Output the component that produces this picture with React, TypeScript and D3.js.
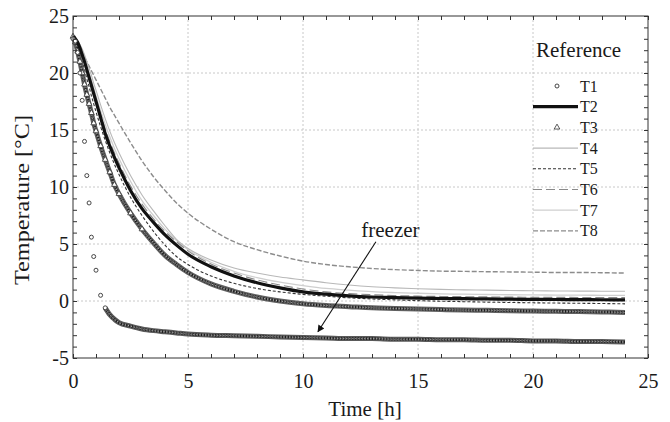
import React, { useRef, useEffect } from "react";
import * as d3 from "d3";

// time axis (h) shared by every probe
const hours = [0, 0.1, 0.2, 0.3, 0.4, 0.5, 0.6, 0.7, 0.8, 0.9, 1.0, 1.2, 1.4, 1.6, 1.8, 2.0, 2.5, 3, 3.5, 4, 4.5, 5,
  6, 7, 8, 9, 10, 11, 12, 13, 14, 15, 16, 17, 18, 19, 20, 21, 22, 23, 24];

const t1 = [23.0, 22.8, 21.8, 20.0, 17.6, 14.0, 11.0, 8.6, 5.6, 3.9, 2.7, 0.5, -0.6, -1.2, -1.6, -1.9, -2.2, -2.45, -2.6, -2.7, -2.8, -2.9,
  -3.0, -3.05, -3.1, -3.15, -3.2, -3.25, -3.3, -3.3, -3.35, -3.35, -3.4, -3.4, -3.45, -3.45, -3.5, -3.5, -3.55, -3.55, -3.6];
const t2 = [23.2, 23.0, 22.7, 22.2, 21.6, 21.0, 20.3, 19.6, 18.9, 18.2, 17.5, 16.1, 14.7, 13.6, 12.6, 11.7, 9.7, 8.1, 6.9, 5.8, 4.9, 4.1,
  3.0, 2.2, 1.6, 1.15, 0.8, 0.6, 0.45, 0.35, 0.3, 0.25, 0.22, 0.2, 0.18, 0.16, 0.14, 0.13, 0.12, 0.11, 0.1];
const t3 = [23.2, 22.7, 21.9, 21.0, 20.0, 19.0, 18.1, 17.3, 16.5, 15.6, 14.9, 13.6, 12.4, 11.3, 10.2, 9.4, 7.7, 6.3, 5.1, 4.0, 3.2, 2.5,
  1.5, 0.85, 0.35, 0.0, -0.25, -0.4, -0.5, -0.6, -0.65, -0.7, -0.75, -0.8, -0.82, -0.85, -0.88, -0.9, -0.93, -0.96, -1.0];
const t4 = [23.1, 23.0, 22.8, 22.5, 22.1, 21.6, 21.0, 20.4, 19.8, 19.1, 18.5, 17.2, 16.0, 14.9, 13.9, 13.0, 11.0, 9.3, 7.9, 6.6, 5.4, 4.6,
  3.6, 2.9, 2.45, 2.1, 1.85, 1.6, 1.4, 1.25, 1.15, 1.08, 1.02, 0.98, 0.95, 0.92, 0.9, 0.88, 0.87, 0.86, 0.85];
const t5 = [23.2, 22.9, 22.4, 21.7, 21.0, 20.3, 19.5, 18.8, 18.0, 17.3, 16.6, 15.3, 14.1, 13.0, 12.0, 11.1, 9.1, 7.5, 6.1, 4.9, 3.9, 3.2,
  2.2, 1.55, 1.1, 0.8, 0.58, 0.42, 0.28, 0.18, 0.1, 0.03, -0.02, -0.06, -0.1, -0.13, -0.16, -0.18, -0.2, -0.22, -0.25];
const t6 = [23.2, 23.0, 22.7, 22.3, 21.7, 21.1, 20.5, 19.8, 19.1, 18.4, 17.7, 16.4, 15.1, 14.0, 13.0, 12.1, 10.1, 8.5, 7.2, 6.1, 5.2, 4.4,
  3.25, 2.45, 1.85, 1.4, 1.05, 0.8, 0.65, 0.55, 0.48, 0.43, 0.4, 0.38, 0.36, 0.34, 0.33, 0.32, 0.31, 0.3, 0.3];
const t7 = [23.1, 23.0, 22.7, 22.3, 21.8, 21.3, 20.7, 20.0, 19.4, 18.7, 18.0, 16.7, 15.5, 14.4, 13.4, 12.5, 10.5, 8.8, 7.5, 6.3, 5.3, 4.5,
  3.4, 2.6, 2.05, 1.65, 1.35, 1.1, 0.95, 0.82, 0.74, 0.68, 0.63, 0.6, 0.57, 0.55, 0.53, 0.52, 0.51, 0.5, 0.5];
const t8 = [22.8, 22.7, 22.5, 22.2, 21.8, 21.4, 21.0, 20.6, 20.2, 19.8, 19.4, 18.6, 17.8, 17.0, 16.3, 15.6, 13.9, 12.3, 10.9, 9.7, 8.6, 7.7,
  6.3, 5.2, 4.5, 3.95, 3.5, 3.2, 3.0, 2.85, 2.75, 2.68, 2.62, 2.6, 2.57, 2.55, 2.53, 2.5, 2.5, 2.48, 2.45];

const seriesNames = ["T1", "T2", "T3", "T4", "T5", "T6", "T7", "T8"];
const seriesValues = [t1, t2, t3, t4, t5, t6, t7, t8];

const xMajor = [0, 5, 10, 15, 20, 25];
const yMajor = [-5, 0, 5, 10, 15, 20, 25];
const legendTitle = "Reference";
const xLabel = "Time [h]";
const yLabel = "Temperature [°C]";

// annotation, in data units (h, °C)
const noteText = "freezer";
const noteTextAt = [13.8, 5.6];
const noteFrom = [13.17, 5.2];
const noteTo = [10.65, -2.7];

// drawing styles per probe
const lineStyle = {
  T1: { kind: "circle", stroke: "#5a5a5a", width: 5, dash: null },
  T2: { kind: "line", stroke: "#111", width: 3.2, dash: null },
  T3: { kind: "triangle", stroke: "#606060", width: 5, dash: null },
  T4: { kind: "line", stroke: "#b8b8b8", width: 1.1, dash: null },
  T5: { kind: "line", stroke: "#333", width: 1.1, dash: "3,2" },
  T6: { kind: "line", stroke: "#8a8a8a", width: 1.1, dash: "9,4" },
  T7: { kind: "line", stroke: "#cfcfcf", width: 1.3, dash: null },
  T8: { kind: "line", stroke: "#8c8c8c", width: 1.4, dash: "5,2" },
};

const serif = '"Liberation Serif"';

const CoolingChart = () => {
  const svgRef = useRef(null);
  const width = 670;
  const height = 422;
  const margin = { top: 16, right: 22, bottom: 64, left: 73 };
  const w = width - margin.left - margin.right;
  const h = height - margin.top - margin.bottom;

  useEffect(() => {
    const x = d3.scaleLinear().domain([0, 25]).range([0, w]);
    const y = d3.scaleLinear().domain([-5, 25]).range([h, 0]);

    const svg = d3.select(svgRef.current);
    svg.selectAll("*").remove();

    svg.append("defs")
      .append("marker")
      .attr("id", "arrowHead")
      .attr("viewBox", "0 0 10 10")
      .attr("refX", 9)
      .attr("refY", 5)
      .attr("markerWidth", 9)
      .attr("markerHeight", 7)
      .attr("markerUnits", "userSpaceOnUse")
      .attr("orient", "auto")
      .append("path")
      .attr("d", "M0,0 L10,5 L0,10 Z")
      .attr("fill", "#111");

    const chart = svg.append("g").attr("transform", `translate(${margin.left},${margin.top})`);

    // dotted grid
    chart.selectAll(".vgrid")
      .data(xMajor.slice(1, -1))
      .enter()
      .append("line")
      .attr("x1", (d) => x(d)).attr("x2", (d) => x(d))
      .attr("y1", 0).attr("y2", h)
      .attr("stroke", "#c8c8c8").attr("stroke-dasharray", "2,2");
    chart.selectAll(".hgrid")
      .data(yMajor.slice(1, -1))
      .enter()
      .append("line")
      .attr("y1", (d) => y(d)).attr("y2", (d) => y(d))
      .attr("x1", 0).attr("x2", w)
      .attr("stroke", "#c8c8c8").attr("stroke-dasharray", "2,2");

    const line = d3.line().curve(d3.curveMonotoneX).x((d) => x(d[0])).y((d) => y(d[1]));

    const drawOrder = ["T8", "T7", "T4", "T6", "T5", "T3", "T2", "T1"];
    drawOrder.forEach((name) => {
      const vals = seriesValues[seriesNames.indexOf(name)];
      const pts = hours.map((t, i) => [t, vals[i]]);
      const st = lineStyle[name];
      // freezer probe: its markers only merge into a band once it levels off
      const bandPts = name === "T1" ? pts.filter((p) => p[0] >= 1.4) : pts;
      chart.append("path")
        .attr("d", line(bandPts))
        .attr("fill", "none")
        .attr("stroke", st.stroke)
        .attr("stroke-width", st.width)
        .attr("stroke-dasharray", st.dash);
      if (st.kind !== "line") {
        // dense marker texture on top of the band
        chart.append("path")
          .attr("d", line(bandPts))
          .attr("fill", "none")
          .attr("stroke", "#1c1c1c")
          .attr("stroke-width", 2.6)
          .attr("stroke-dasharray", "1.2,1.6");
        chart.append("path")
          .attr("d", line(bandPts))
          .attr("fill", "none")
          .attr("stroke", "#d8d8d8")
          .attr("stroke-width", 0.8)
          .attr("stroke-dasharray", "1,2");
      }
      if (st.kind === "circle") {
        chart.selectAll(null).data(pts.filter((p) => p[0] < 1.6)).enter()
          .append("circle")
          .attr("cx", (d) => x(d[0])).attr("cy", (d) => y(d[1]))
          .attr("r", 2).attr("fill", "#fff").attr("stroke", "#333").attr("stroke-width", 0.9);
      }
      if (st.kind === "triangle") {
        const tri = d3.symbol(d3.symbolTriangle, 14);
        chart.selectAll(null).data(pts.filter((p) => p[0] <= 3)).enter()
          .append("path")
          .attr("d", tri)
          .attr("transform", (d) => `translate(${x(d[0])},${y(d[1])})`)
          .attr("fill", "#fff").attr("stroke", "#333").attr("stroke-width", 0.8);
      }
    });

    // frame and inward ticks on all four sides
    chart.append("rect").attr("width", w).attr("height", h)
      .attr("fill", "none").attr("stroke", "#333").attr("stroke-width", 1);

    const styleAxis = (g) => {
      g.attr("font-family", serif).attr("font-size", 20);
      g.select(".domain").remove();
      g.selectAll(".tick line").attr("stroke", "#333");
      g.selectAll("text").attr("fill", "#1a1a1a");
    };
    const major = (d) => (d % 5 === 0 ? String(d) : "");

    chart.append("g").attr("transform", `translate(0,${h})`)
      .call(d3.axisBottom(x).tickValues(d3.range(0, 26)).tickSizeInner(-4).tickSizeOuter(0).tickPadding(16).tickFormat(major))
      .call(styleAxis);
    chart.append("g")
      .call(d3.axisLeft(y).tickValues(d3.range(-5, 26)).tickSizeInner(-4).tickSizeOuter(0).tickPadding(4).tickFormat(major))
      .call(styleAxis);
    chart.append("g")
      .call(d3.axisTop(x).tickValues(d3.range(0, 26)).tickSizeInner(-4).tickSizeOuter(0).tickFormat(() => ""))
      .call(styleAxis);
    chart.append("g").attr("transform", `translate(${w},0)`)
      .call(d3.axisRight(y).tickValues(d3.range(-5, 26)).tickSizeInner(-4).tickSizeOuter(0).tickFormat(() => ""))
      .call(styleAxis);

    const label = (parent) => parent.append("text").attr("font-family", serif).attr("fill", "#1a1a1a");

    // axis titles
    label(svg)
      .attr("x", 365).attr("y", 416)
      .attr("text-anchor", "middle")
      .attr("font-size", 21)
      .text(xLabel);
    label(svg)
      .attr("transform", "translate(29,200) rotate(-90)")
      .attr("text-anchor", "middle")
      .attr("font-size", 21)
      .attr("textLength", 170).attr("lengthAdjust", "spacingAndGlyphs")
      .text(yLabel);

    // annotation
    label(chart)
      .attr("x", x(noteTextAt[0])).attr("y", y(noteTextAt[1]))
      .attr("text-anchor", "middle")
      .attr("font-size", 21)
      .text(noteText);
    chart.append("line")
      .attr("x1", x(noteFrom[0])).attr("y1", y(noteFrom[1]))
      .attr("x2", x(noteTo[0])).attr("y2", y(noteTo[1]))
      .attr("stroke", "#111").attr("stroke-width", 1.1)
      .attr("marker-end", "url(#arrowHead)");

    // legend
    const legend = svg.append("g");
    label(legend)
      .attr("x", 536).attr("y", 57)
      .attr("font-size", 21)
      .text(legendTitle);
    seriesNames.forEach((name, i) => {
      const cy = 86 + i * 20.7;
      const st = lineStyle[name];
      if (st.kind === "circle") {
        legend.append("circle").attr("cx", 557).attr("cy", cy).attr("r", 2)
          .attr("fill", "#fff").attr("stroke", "#333").attr("stroke-width", 0.9);
      } else if (st.kind === "triangle") {
        legend.append("path").attr("d", d3.symbol(d3.symbolTriangle, 14))
          .attr("transform", `translate(557,${cy})`)
          .attr("fill", "#fff").attr("stroke", "#333").attr("stroke-width", 0.8);
      } else {
        legend.append("line")
          .attr("x1", 533).attr("x2", 578).attr("y1", cy).attr("y2", cy)
          .attr("stroke", st.stroke).attr("stroke-width", st.width)
          .attr("stroke-dasharray", st.dash);
      }
      label(legend)
        .attr("x", 580).attr("y", cy + 5.5)
        .attr("font-size", 16)
        .text(name);
    });
  }, []);

  return <svg ref={svgRef} width={width} height={height} style={{ display: "block" }} />;
};

export default function App() {
  return (
    <>
      <style>{`body { margin: 0; background: #fff; }`}</style>
      <CoolingChart />
    </>
  );
}
